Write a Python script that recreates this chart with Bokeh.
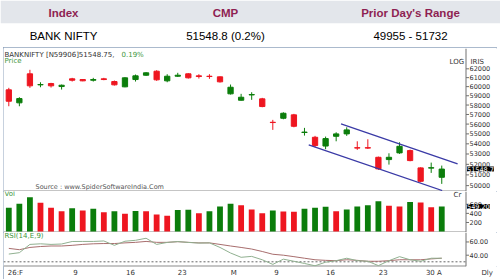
import math
from bokeh.plotting import figure
from bokeh.layouts import column
from bokeh.models import Range1d, FixedTicker, Label, Span, ColumnDataSource
from bokeh.embed import file_html
from bokeh.resources import INLINE
from bokeh.core.properties import value

# ---------------- data ----------------
header_titles = ["Index", "CMP", "Prior Day's Range"]
header_values = ["BANK NIFTY", "51548.8 (0.2%)", "49955 - 51732"]

opens = [59646, 58235, 61431, 60198, 60342, 60010, 60868, 60789, 60711, 60868,
         60565, 59977, 60789, 61273, 61727, 60643, 61160, 61431, 61205, 61160,
         61092, 59208, 58514, 59090, 58665, 56188, 56604, 56960, 55140, 54657,
         53780, 54757, 55000, 53620, 53620, 52679, 52457, 53108, 53334, 51661,
         51640, 50774]
highs = [59866, 58838, 61886, 60487, 60420, 60231, 60980, 60823, 60980, 60980,
         60677, 61047, 61352, 61612, 61840, 61386, 61545, 61499, 61386, 61386,
         61126, 60231, 59208, 59383, 58773, 56437, 57233, 57064, 55610, 54798,
         54727, 55161, 55672, 54255, 54456, 52747, 53069, 54155, 53432, 51718,
         52167, 51880]
lows = [57871, 57871, 59866, 59932, 59899, 59678, 60565, 60599, 60565, 60711,
        60121, 59932, 60565, 61205, 60643, 60487, 61092, 60901, 60901, 60868,
        60454, 59132, 58482, 58557, 57765, 55406, 56500, 55672, 54828, 53659,
        53470, 54255, 54798, 53403, 53501, 51471, 51975, 53011, 52293, 50309,
        51187, 50161]
closes = [58407, 58697, 60087, 60231, 60087, 60154, 60711, 60643, 60789, 60789,
          60198, 60980, 61205, 61545, 60755, 61160, 61273, 60980, 61126, 61126,
          60532, 59932, 58838, 59132, 57839, 56160, 57128, 55775, 55180, 53827,
          54526, 55000, 55406, 53580, 53580, 51566, 52679, 53758, 52360, 50401,
          51680, 51548.75]
volumes = [521, 609, 754, 631, 521, 446, 512, 461, 499, 424,
           446, 389, 450, 444, 373, 345, 475, 480, 402, 446,
           549, 609, 578, 483, 402, 461, 439, 433, 499, 521,
           543, 446, 483, 549, 578, 666, 565, 549, 652, 637,
           534, 549.2]
rsi = [41.7, 43.8, 56.3, 57.2, 56.3, 56.9, 60.7, 60.8, 60.8, 61.5,
       54.9, 61.1, 62.5, 65.6, 56.3, 59.3, 60.6, 59.3, 58.3, 58.6,
       51.7, 43.3, 36.8, 38.2, 33.1, 26.1, 34.0, 30.8, 27.5, 24.0,
       29.4, 31.7, 35.4, 31.7, 30.8, 24.2, 31.7, 37.8, 33.1, 30.8,
       35.4, 35.4]
rsi_signal = [50.3, 48.3, 51.7, 53.1, 53.9, 53.9, 54.9, 56.3, 57.2, 57.6,
              57.6, 58.6, 59.4, 60.8, 59.4, 59.4, 60.4, 59.4, 58.6, 58.6,
              56.3, 53.9, 51.7, 49.3, 45.6, 41.4, 40.0, 37.8, 35.4, 33.1,
              32.2, 31.7, 33.1, 32.2, 30.8, 30.8, 31.7, 33.1, 33.1, 33.1,
              34.4, 35.4]
upper_channel_x = [31.46, 42.5]
upper_channel_y = [56023, 52042]
lower_channel_x = [28.4, 41.04]
lower_channel_y = [53897, 49555]

x_tick_pos = [0.63, 6.32, 11.52, 16.42, 21.31, 25.35, 30.46, 35.45, 40.25, 45.3]
x_tick_labels = ["26:F", "9", "16", "23", "M", "9", "16", "23", "30 A", "Dly"]
price_ticks = [50000, 51000, 52000, 53000, 54000, 55000, 56000, 57000,
               58000, 59000, 60000, 61000, 62000]
vol_ticks = [200, 400, 600]
rsi_ticks = [40, 60]
rsi_level = 30

# ---------------- styles / layout ----------------
UP = "#0B7D0B"
DOWN = "#EE1620"
LBL_GREEN = "#3C963C"
TXT = "#333333"
AXC = "#707070"
SEP = "#8C8C8C"
FONT = "DejaVu Sans"
W = 494                      # chart width (page x 3..497)
PX_PER_BAR = 10.56
X0 = -0.502
X1 = X0 + W / PX_PER_BAR
PB, PT = 49463.0, 64364.0
V0, V1 = -20, 880
R0, R1 = 22.9, 74.3


def xd(px):
    """page pixel -> bar-index coordinate"""
    return X0 + (px - 3) / PX_PER_BAR


AXIS_X = xd(465.5)
LABEL_X = xd(469)
TICK_END = xd(468.5)


def yp(py):
    lt, lb = math.log(PT), math.log(PB)
    return math.exp(lt - (py - 48) / 143.0 * (lt - lb))


def yv(py):
    return V1 - (py - 191) / 41.0 * (V1 - V0)


def yr(py):
    return R1 - (py - 232) / 37.0 * (R1 - R0)


def lab(fig, x, y, text, color=TXT, size="7px", align="left", **kw):
    fig.add_layout(Label(x=x, y=y, text=text, text_color=color,
                         text_font=FONT, text_font_size=size,
                         text_align=align, text_baseline="middle", **kw))


def panel(height, yrange, ytype="linear", top=0, bottom=0, xloc=None):
    f = figure(width=W, height=height, x_range=xr, y_range=yrange,
               y_axis_type=ytype, y_axis_location=None, x_axis_location=xloc,
               toolbar_location=None, output_backend="svg",
               min_border_left=0, min_border_right=0, min_border_top=top,
               min_border_bottom=bottom)
    f.outline_line_color = None
    f.grid.visible = False
    return f


def right_scale(fig, ticks, labels, bottom_val):
    n = len(ticks)
    fig.add_layout(Span(location=AXIS_X, dimension="height", line_color=AXC,
                        line_width=1))
    fig.segment(x0=[AXIS_X] * n, y0=ticks, x1=[TICK_END] * n, y1=ticks,
                line_color=AXC, line_width=1)
    fig.text(x=[LABEL_X] * n, y=ticks, text=labels, text_align="left",
             text_baseline="middle", text_font=value(FONT),
             text_font_size="6.5px", text_color=TXT)
    fig.segment(x0=[X0], y0=[bottom_val], x1=[AXIS_X], y1=[bottom_val],
                line_color=SEP, line_width=2)


# ---------------- header ----------------
hdr = figure(width=500, height=47, x_range=Range1d(0, 500), y_range=Range1d(47, 0),
             toolbar_location=None, output_backend="svg",
             x_axis_location=None, y_axis_location=None, min_border=0)
hdr.outline_line_color = None
hdr.grid.visible = False
hdr.quad(left=[0], right=[500], top=[0], bottom=[22.7], fill_color="#E3E6EB",
         line_color=None)
col_x = [63, 225, 410]
hdr.text(x=col_x, y=[12.5] * 3, text=header_titles, text_align="center",
         text_baseline="middle", text_font=value("Liberation Sans"),
         text_font_style="bold", text_font_size="11.5px", text_color="#8E1F52")
hdr.text(x=col_x, y=[35] * 3, text=header_values, text_align="center",
         text_baseline="middle", text_font=value("Liberation Sans"),
         text_font_size="11.5px", text_color="#000000")

xr = Range1d(X0, X1)
idx = list(range(len(closes)))

# ---------------- price panel ----------------
p1 = panel(144, Range1d(PB, PT), ytype="log", top=1)
right_scale(p1, price_ticks, [str(t) for t in price_ticks], PB)

ccol = [UP if c >= o else DOWN for o, c in zip(opens, closes)]
src = ColumnDataSource(dict(
    x=idx, h=highs, l=lows,
    top=[max(o, c) for o, c in zip(opens, closes)],
    bot=[min(o, c) for o, c in zip(opens, closes)],
    color=ccol))
p1.segment(x0="x", y0="h", x1="x", y1="l", line_color="color", line_width=1,
           source=src)
p1.vbar(x="x", top="top", bottom="bot", width=0.5, fill_color="color",
        line_color="color", line_width=1, source=src)
p1.line(upper_channel_x, upper_channel_y, line_color="#3A3AA6", line_width=1.3)
p1.line(lower_channel_x, lower_channel_y, line_color="#3A3AA6", line_width=1.3)

lab(p1, xd(4), yp(54.5), "BANKNIFTY [N59906]51548.75,")
lab(p1, xd(121), yp(54.5), "0.19%", color=LBL_GREEN)
lab(p1, xd(4), yp(60.5), "Price", color=LBL_GREEN)
lab(p1, xd(449), yp(61.5), "LOG")
lab(p1, xd(470), yp(61.5), "IRIS")
lab(p1, xd(35), yp(186.5), "Source : www.SpiderSoftwareIndia.Com", color="#555555",
    size="6.5px")
lab(p1, xd(466.5), closes[-1], f"{closes[-1]:.2f}"[:-1], color="#FFFFFF",
    size="6.5px", background_fill_color="#000000")

# ---------------- volume panel ----------------
p2 = panel(41, Range1d(V0, V1))
right_scale(p2, vol_ticks, [str(t) for t in vol_ticks], V0)
vcol = [UP] + [UP if volumes[i] >= volumes[i - 1] else DOWN
               for i in range(1, len(volumes))]
p2.vbar(x=idx, top=volumes, bottom=0, width=0.55, fill_color=vcol, line_color=None)
lab(p2, xd(4), yv(193.5), "Vol", color=LBL_GREEN)
lab(p2, xd(453), yv(194.5), "Cr")
lab(p2, xd(466.5), volumes[-1], f"{volumes[-1]:.2f}", color="#FFFFFF",
    size="6.5px", background_fill_color="#000000")

# ---------------- RSI panel ----------------
p3 = panel(47, Range1d(R0, R1), bottom=10, xloc="below")
right_scale(p3, rsi_ticks, [f"{t:.2f}" for t in rsi_ticks], R0)
xa = p3.xaxis[0]
xa.ticker = FixedTicker(ticks=x_tick_pos)
xa.major_label_overrides = {t: l for t, l in zip(x_tick_pos, x_tick_labels)}
xa.axis_line_color = None
xa.major_tick_line_color = None
xa.major_tick_in = 0
xa.major_tick_out = 0
xa.minor_tick_line_color = None
xa.major_label_standoff = 2
xa.major_label_text_font = FONT
xa.major_label_text_font_size = "7px"
xa.major_label_text_color = TXT
p3.segment(x0=[X0], y0=[rsi_level], x1=[AXIS_X], y1=[rsi_level],
           line_color="#666666", line_dash="2 2", line_width=1)
p3.line(idx, rsi_signal, line_color="#A86E6E", line_width=1)
p3.line(idx, rsi, line_color="#90B090", line_width=1)
lab(p3, xd(4), yr(235.5), "RSI(14,E,9)", color=LBL_GREEN)

chart = column(p1, p2, p3, spacing=0, margin=(0, 3, 1, 3),
               styles={"outline": "1px solid #8FA3BC", "outline-offset": "-1px"})
layout = column(hdr, chart, spacing=0)

open("out.html", "w").write(file_html(layout, INLINE, title="BANK NIFTY"))
